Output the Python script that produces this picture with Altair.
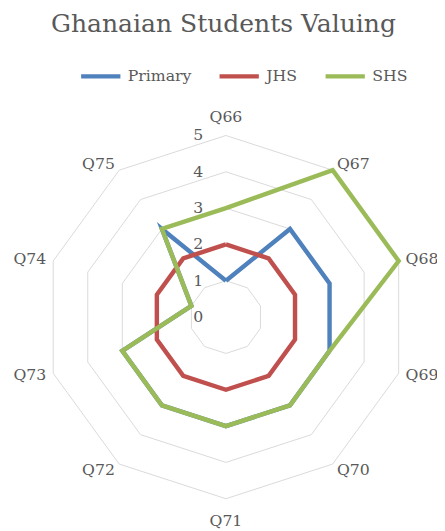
import altair as alt
import pandas as pd

# ---- data ----
categories = ["Q66", "Q67", "Q68", "Q69", "Q70", "Q71", "Q72", "Q73", "Q74", "Q75"]
series_names = ["Primary", "JHS", "SHS"]
primary = [1, 3, 3, 3, 3, 3, 3, 3, 1, 3]
jhs = [2, 2, 2, 2, 2, 2, 2, 2, 2, 2]
shs = [3, 5, 5, 3, 3, 3, 3, 3, 1, 3]
levels = [1, 2, 3, 4, 5]
tick_values = [0, 1, 2, 3, 4, 5]
colors = ["#4F81BD", "#C0504D", "#9BBB59"]

n = len(categories)
values = {"Primary": primary, "JHS": jhs, "SHS": shs}

rows = []
for s in series_names:
    for i in range(n + 1):  # close the polygon
        rows.append({"series": s, "idx": i, "category": categories[i % n],
                     "value": values[s][i % n]})
series_df = pd.DataFrame(rows)

grid_df = pd.DataFrame([{"level": lv, "idx": i} for lv in levels for i in range(n + 1)])
tick_df = pd.DataFrame({"level": tick_values, "label": [str(t) for t in tick_values]})
cat_df = pd.DataFrame({"idx": list(range(n)), "category": categories})

FONT = "DejaVu Serif"
GRAY = "#595959"

xscale = alt.Scale(domain=[-6.0, 5.5946], nice=False, zero=False)
yscale = alt.Scale(domain=[-5.5405, 5.6757], nice=False, zero=False)
color_scale = alt.Scale(domain=series_names, range=colors)

ang = "datum.idx * 2 * PI / %d" % n

grid = alt.Chart(grid_df).transform_calculate(
    ang=ang,
    gx="datum.level * sin(datum.ang)",
    gy="datum.level * cos(datum.ang)",
).mark_line(color="#D9D9D9", strokeWidth=1).encode(
    x=alt.X("gx:Q", scale=xscale, axis=None),
    y=alt.Y("gy:Q", scale=yscale, axis=None),
    detail="level:N",
    order="idx:Q",
)

ticks = alt.Chart(tick_df).transform_calculate(
    tx="0", ty="datum.level"
).mark_text(font=FONT, fontSize=16, color=GRAY, align="right", baseline="middle", dx=-23).encode(
    x=alt.X("tx:Q", scale=xscale, axis=None),
    y=alt.Y("ty:Q", scale=yscale, axis=None),
    text="label:N",
)

def series_layer(name):
    return alt.Chart(series_df).transform_filter(
        alt.datum.series == name
    ).transform_calculate(
        ang=ang,
        px="datum.value * sin(datum.ang)",
        py="datum.value * cos(datum.ang)",
    ).mark_line(strokeWidth=4.5, strokeJoin="miter").encode(
        x=alt.X("px:Q", scale=xscale, axis=None),
        y=alt.Y("py:Q", scale=yscale, axis=None),
        color=alt.Color("series:N", scale=color_scale, sort=series_names,
                        legend=alt.Legend(title=None, orient="none", direction="horizontal",
                                          legendX=72, legendY=-58,
                                          symbolType="stroke", symbolSize=1600,
                                          symbolStrokeWidth=4.5,
                                          labelFont=FONT, labelFontSize=16,
                                          labelColor=GRAY, labelOffset=5,
                                          columnPadding=19, padding=0)),
        order="idx:Q",
    )

def label_layer(cond, align):
    return alt.Chart(cat_df).transform_calculate(
        ang=ang,
        s="sin(datum.ang)",
        c="cos(datum.ang)",
        r="5 + (datum.c > 0.95 ? 0.5 : (datum.c < -0.95 ? 0.62 : 0.2))",
        lx="datum.r * datum.s",
        ly="datum.r * datum.c",
    ).transform_filter(cond).mark_text(
        font=FONT, fontSize=16, color=GRAY, align=align, baseline="middle"
    ).encode(
        x=alt.X("lx:Q", scale=xscale, axis=None),
        y=alt.Y("ly:Q", scale=yscale, axis=None),
        text="category:N",
    )

labels_right = label_layer("datum.s > 0.1", "left")
labels_left = label_layer("datum.s < -0.1", "right")
labels_mid = label_layer("abs(datum.s) <= 0.1", "center")

chart = alt.layer(
    grid, ticks,
    series_layer("Primary"), series_layer("JHS"), series_layer("SHS"),
    labels_right, labels_left, labels_mid,
).properties(
    width=429, height=415,
    title=alt.TitleParams("Ghanaian Students Valuing", font=FONT, fontSize=25.5,
                          fontWeight="normal", color=GRAY, anchor="middle",
                          frame="group", orient="top",
                          offset=0, dy=3, baseline="alphabetic", dx=5),
    autosize=alt.AutoSizeParams(type="none"),
    padding={"top": 100, "left": 0, "right": 8, "bottom": 8},
).configure_view(stroke=None)

chart.save("out.html", embed_options={"renderer": "svg", "actions": False})
